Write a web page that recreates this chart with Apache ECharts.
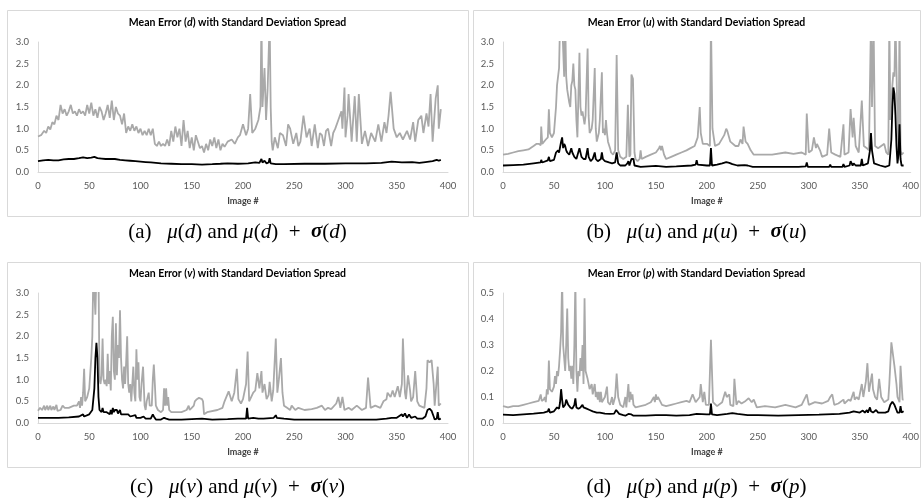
<!DOCTYPE html>
<html>
<head>
<meta charset="utf-8">
<script src="https://cdn.jsdelivr.net/npm/echarts@6/dist/echarts.min.js"></script>
<style>
  html, body { margin: 0; padding: 0; background: #fff; }
  #chart { width: 922px; height: 500px; }
</style>
</head>
<body>
<div id="chart"></div>
<script>
// x ticks shared by all four panels
var xTicks = [0, 50, 100, 150, 200, 250, 300, 350, 400];

// (a) d : mean and mean + std, [image #, value]
var dSigma = [[0,0.82],[3,0.85],[6,0.95],[8,0.9],[10,1.05],[12,0.98],[14,1.15],[16,1.1],[18,1.3],[20,1.2],[22,1.55],[24,1.35],[26,1.45],[28,1.3],[30,1.4],[32,1.55],[34,1.35],[36,1.4],[38,1.3],[40,1.45],[42,1.35],[44,1.4],[46,1.3],[48,1.55],[50,1.35],[52,1.6],[54,1.3],[56,1.45],[58,1.25],[60,1.5],[62,1.4],[64,1.2],[66,1.35],[68,1.55],[70,1.25],[72,1.65],[74,1.2],[76,1.5],[78,1.35],[80,1.3],[82,1.1],[84,1.35],[86,0.9],[88,1.05],[90,0.95],[92,1.1],[94,0.95],[96,1.05],[98,0.9],[100,1.0],[102,0.85],[104,0.95],[106,0.85],[108,1.0],[110,0.85],[112,1.0],[114,0.65],[116,0.6],[118,0.7],[120,0.6],[122,0.65],[124,0.6],[126,0.75],[128,0.6],[130,0.95],[132,0.7],[134,1.05],[136,0.8],[138,1.0],[140,0.6],[142,1.2],[144,0.7],[146,0.95],[148,0.55],[150,0.8],[152,0.5],[154,0.85],[156,0.7],[158,0.55],[160,0.6],[162,0.45],[164,0.65],[166,0.5],[168,0.75],[170,0.6],[172,0.8],[174,0.55],[176,0.75],[178,0.5],[180,0.65],[182,0.58],[185,0.7],[189,0.75],[192,0.65],[195,0.8],[197,0.85],[200,1.1],[203,0.85],[205,1.0],[207,1.8],[209,0.9],[212,1.0],[215,1.2],[217,1.5],[218,3.5],[219,1.5],[221,2.4],[222.5,1.2],[224,1.9],[226,3.5],[227,1.5],[228,0.7],[229,0.5],[231,0.8],[234,0.55],[236,0.9],[239,0.85],[242,0.6],[244,1.1],[246,1.0],[249,0.65],[252,0.9],[254,0.6],[256,0.7],[259,1.3],[262,0.8],[265,1.0],[267,0.6],[270,1.1],[273,0.55],[275,0.9],[277,0.85],[279,0.6],[281,0.95],[283,1.0],[286,0.6],[288,0.9],[290,1.0],[293,1.2],[296,1.4],[297,1.0],[299,1.95],[300,0.8],[302,1.3],[303,1.8],[306,0.7],[309,1.75],[311,0.7],[313,1.8],[316,0.65],[319,0.95],[322,0.6],[325,0.9],[329,0.7],[332,1.1],[335,0.7],[338,1.15],[340,0.9],[342,1.3],[344,1.85],[347,1.0],[350,0.8],[353,0.9],[356,0.75],[360,0.95],[363,0.75],[366,1.15],[368,0.7],[371,1.2],[374,1.3],[376,0.9],[379,1.35],[381,1.05],[383,1.8],[385,0.7],[388,1.7],[390,2.0],[391,1.0],[393,1.45]];
var dMean = [[0,0.25],[5,0.27],[10,0.28],[15,0.27],[20,0.27],[25,0.29],[30,0.3],[35,0.3],[40,0.32],[44,0.34],[48,0.32],[52,0.33],[55,0.35],[58,0.32],[62,0.31],[66,0.3],[70,0.3],[75,0.3],[80,0.28],[85,0.27],[90,0.26],[95,0.25],[100,0.24],[105,0.23],[110,0.22],[115,0.21],[120,0.2],[130,0.19],[140,0.18],[150,0.18],[160,0.17],[170,0.18],[178,0.19],[185,0.2],[195,0.19],[205,0.2],[212,0.22],[216,0.21],[218,0.3],[219,0.22],[221,0.26],[223,0.2],[225,0.22],[226,0.32],[227,0.2],[232,0.18],[240,0.18],[260,0.19],[280,0.19],[300,0.2],[320,0.2],[335,0.21],[345,0.24],[355,0.22],[365,0.23],[372,0.21],[378,0.23],[385,0.25],[389,0.28],[391,0.26],[393,0.28]];

// (b) u
var uSigma = [[0,0.4],[5,0.42],[10,0.45],[15,0.48],[20,0.5],[25,0.52],[30,0.6],[33,0.65],[35,0.65],[37,0.62],[37.5,1.05],[38.5,0.65],[42,0.75],[44,0.8],[45,1.45],[46,0.9],[48,0.8],[50,0.9],[52,1.5],[53,2.0],[55,2.4],[56,3.5],[58,3.5],[60,2.2],[61,3.5],[62,2.2],[63,1.9],[65,1.6],[66,1.5],[67,2.0],[68,2.1],[69,2.5],[70,2.0],[71,1.9],[72,1.2],[73,0.8],[75,2.75],[76,1.5],[77,1.3],[78,1.4],[80,1.1],[81,1.3],[83,2.85],[84,1.3],[85,0.9],[87,1.0],[88,1.2],[90,2.4],[91,1.0],[92,0.7],[94,0.9],[95,1.2],[97,2.3],[98,0.9],[99,1.0],[100,0.85],[101,1.2],[102,0.9],[103,0.7],[105,0.55],[106,0.45],[108,0.4],[110,0.5],[111.5,2.7],[113,0.5],[115,0.35],[118,0.3],[121,0.35],[122.5,1.55],[124,0.35],[125,0.4],[126,2.25],[127.5,2.15],[129,0.45],[130,0.3],[132,0.25],[134,0.3],[135,0.5],[136,0.3],[140,0.35],[145,0.4],[150,0.45],[153,0.55],[154,0.6],[155,0.5],[156,0.6],[158,0.4],[160,0.3],[165,0.35],[170,0.4],[175,0.45],[180,0.5],[184,0.55],[188,0.6],[191,0.8],[193,1.5],[194,0.9],[196,0.65],[200,0.65],[203,0.6],[204,3.5],[205.5,1.0],[208,0.6],[212,0.65],[217,0.85],[219,1.0],[220,0.95],[223,0.7],[228,0.6],[231,0.6],[233,0.75],[235,0.65],[236,1.05],[238,0.7],[240,0.65],[243,0.5],[246,0.4],[255,0.4],[264,0.4],[277,0.45],[285,0.42],[293,0.45],[297,0.4],[298,1.35],[300,0.45],[303,0.5],[305,0.8],[307,0.55],[308,0.65],[311,0.5],[313,0.35],[318,0.4],[320,1.0],[322,0.45],[326,0.4],[331,0.35],[334,1.1],[335,0.4],[339,0.45],[341,1.45],[343,0.8],[344,1.25],[346,0.6],[349,0.45],[352,1.65],[354,0.6],[357,0.55],[359,0.5],[361,3.5],[362,1.5],[363.5,3.5],[365,0.6],[368,0.55],[371,0.6],[374,0.65],[376,0.45],[378,0.4],[379,3.5],[380,1.2],[382,2.0],[383,2.3],[384,2.2],[385,3.5],[386,3.5],[387,1.2],[388,0.5],[389,3.5],[390,0.5],[391,0.4],[393,0.45]];
var uMean = [[0,0.15],[10,0.16],[20,0.17],[30,0.2],[37,0.22],[37.5,0.28],[38.5,0.22],[44,0.27],[45,0.35],[46,0.25],[50,0.28],[52,0.45],[54,0.5],[55,0.45],[57,0.7],[58,0.8],[59,0.55],[60,0.65],[61,0.6],[62,0.5],[63,0.45],[65,0.4],[67,0.55],[68,0.45],[70,0.35],[72,0.3],[75,0.55],[77,0.35],[79,0.3],[81,0.3],[83,0.55],[84,0.35],[86,0.25],[88,0.3],[90,0.45],[91,0.3],[93,0.25],[96,0.3],[97,0.45],[98,0.3],[100,0.25],[104,0.22],[107,0.2],[110,0.22],[111.5,0.45],[113,0.2],[115,0.15],[120,0.15],[122,0.2],[123,0.25],[124,0.15],[126,0.3],[127,0.33],[128,0.3],[129,0.15],[135,0.12],[150,0.14],[160,0.12],[170,0.13],[185,0.15],[189,0.17],[190,0.27],[191,0.17],[200,0.15],[203,0.15],[204,0.55],[205,0.15],[210,0.17],[215,0.2],[219,0.23],[222,0.21],[225,0.18],[230,0.15],[237,0.16],[240,0.15],[245,0.12],[260,0.12],[290,0.12],[297,0.13],[298,0.22],[299,0.12],[320,0.12],[321,0.17],[322,0.12],[333,0.12],[334,0.18],[335,0.12],[340,0.15],[341,0.25],[343,0.15],[344,0.2],[346,0.15],[351,0.15],[352,0.3],[353,0.15],[358,0.2],[360,0.5],[361,0.9],[362,0.5],[364,0.2],[370,0.15],[375,0.12],[379,0.15],[380,0.45],[381,0.75],[382,1.5],[383,1.95],[384,1.8],[385,1.3],[386,0.6],[387,0.2],[388,0.4],[389,1.1],[390,0.3],[391,0.15],[393,0.15]];

// (c) v
var vSigma = [[0,0.28],[2,0.35],[4,0.3],[6,0.4],[7,0.3],[9,0.4],[10,0.3],[12,0.4],[13,0.3],[15,0.38],[16,0.3],[18,0.42],[19,0.28],[22,0.3],[24,0.4],[26,0.35],[30,0.35],[35,0.4],[38,0.4],[40,0.5],[41,0.35],[42,0.6],[43,0.4],[44,0.7],[45,1.25],[46,0.5],[48,0.6],[50,0.8],[52,1.5],[53,2.0],[54,3.5],[55,3.5],[56,2.5],[57,3.5],[59,3.5],[60,1.0],[61,0.9],[62,1.1],[63,1.95],[64,1.0],[65,0.9],[66,1.0],[67,0.85],[68,1.6],[69,0.9],[70,1.2],[71,0.75],[72,2.0],[73,2.45],[74,1.2],[75,1.0],[76,2.3],[77,1.1],[78,1.8],[79,1.5],[80,2.6],[81,1.5],[82,1.0],[83,0.8],[84,1.3],[85,0.9],[86,1.4],[87,2.0],[88,0.9],[89,0.7],[90,0.9],[91,0.5],[93,1.3],[94,0.7],[95,0.5],[96,1.7],[97,1.0],[98,1.4],[99,0.6],[100,0.5],[101,0.9],[102.5,1.3],[104,0.4],[105,0.3],[106,0.5],[108,0.7],[109,0.4],[111,0.4],[112,1.0],[113,1.35],[114,0.9],[115,0.4],[117,0.3],[120,0.25],[122,0.3],[123,0.8],[124,0.4],[125,0.8],[126,0.4],[127,0.6],[128,0.3],[130,0.25],[140,0.25],[145,0.3],[147,0.4],[148,0.3],[150,0.35],[152,0.4],[153,0.5],[155,0.55],[157,0.58],[158,0.55],[160,0.55],[161,0.5],[162,0.2],[165,0.25],[175,0.3],[180,0.35],[182,0.5],[186,0.73],[189,0.5],[191.5,0.7],[194,1.25],[195.5,0.55],[198,0.45],[200,0.55],[203,0.9],[204.5,1.65],[206,0.5],[210,0.7],[212,0.75],[214,1.15],[216,0.8],[218,1.2],[219,0.7],[221,0.9],[223,0.55],[225,0.65],[226,0.95],[228,0.5],[229.5,0.75],[232,1.95],[233.5,0.7],[235,1.0],[237,1.5],[238.5,0.7],[240,0.4],[243,0.35],[246,0.3],[247.5,0.4],[251,0.3],[254,0.35],[260,0.3],[267,0.32],[272,0.35],[277,0.4],[280,0.3],[283,0.35],[286,0.32],[291,0.45],[293,0.6],[295,0.35],[297,0.6],[299,0.3],[303,0.35],[306,0.3],[311,0.4],[316,0.3],[320,0.35],[322,1.05],[324.5,0.35],[329,0.4],[334,0.35],[337,0.5],[340,0.55],[341,0.7],[344,0.6],[346,0.75],[348,0.6],[351,0.85],[353,0.6],[355,0.9],[356,1.95],[358,0.7],[359,0.55],[361,1.1],[363,0.75],[364,0.5],[366,0.6],[368,1.2],[370,0.5],[372,0.4],[377,0.35],[379,0.8],[380,1.45],[382,1.4],[384,1.45],[386,0.9],[387,0.4],[390,1.3],[391,0.4],[393,0.45]];
var vMean = [[0,0.12],[20,0.12],[30,0.13],[40,0.15],[44,0.2],[45,0.15],[50,0.2],[53,0.3],[55,0.8],[56,1.5],[57,1.85],[58,1.5],[59,0.6],[60,0.3],[62,0.25],[63,0.35],[64,0.25],[67,0.25],[70,0.2],[71,0.3],[72,0.2],[73,0.35],[74,0.25],[75,0.3],[77,0.3],[78,0.22],[80,0.3],[81,0.2],[85,0.2],[88,0.2],[90,0.15],[95,0.18],[96,0.12],[100,0.12],[103,0.15],[105,0.1],[110,0.1],[112,0.2],[113,0.15],[115,0.08],[120,0.08],[123,0.12],[125,0.1],[126,0.12],[128,0.08],[140,0.08],[150,0.09],[160,0.1],[170,0.08],[185,0.09],[195,0.1],[203,0.1],[204,0.35],[205,0.1],[210,0.12],[215,0.1],[220,0.1],[230,0.12],[232,0.18],[233,0.12],[240,0.1],[250,0.08],[300,0.08],[330,0.08],[340,0.1],[345,0.12],[350,0.12],[355,0.2],[356,0.15],[358,0.22],[360,0.12],[362,0.2],[364,0.12],[368,0.15],[370,0.1],[375,0.1],[378,0.15],[380,0.3],[382,0.33],[384,0.28],[386,0.15],[387,0.08],[389,0.1],[390,0.25],[391,0.08],[393,0.1]];

// (d) p
var pSigma = [[0,0.065],[5,0.06],[10,0.065],[15,0.065],[20,0.07],[25,0.075],[30,0.08],[35,0.085],[37,0.11],[38,0.085],[40,0.09],[41,0.1],[42,0.08],[43,0.13],[44,0.11],[45,0.24],[46,0.13],[48,0.12],[50,0.14],[51,0.18],[52,0.15],[53,0.2],[54,0.18],[55,0.22],[56,0.28],[57,0.35],[58,0.55],[59,0.3],[60,0.25],[61,0.2],[62,0.3],[63,0.44],[64,0.25],[65,0.2],[66,0.22],[67,0.17],[68,0.22],[69,0.15],[70,0.3],[71,0.55],[72,0.2],[73,0.12],[74,0.2],[75,0.18],[76,0.25],[77,0.2],[78,0.3],[79,0.15],[80,0.48],[81,0.2],[83,0.17],[85,0.13],[87,0.15],[88,0.11],[90,0.15],[91,0.1],[92,0.12],[93,0.09],[94,0.12],[95,0.08],[96,0.12],[97,0.08],[100,0.1],[102,0.14],[103,0.08],[105,0.07],[107,0.1],[108,0.07],[110,0.1],[111.5,0.19],[113,0.1],[115,0.07],[118,0.06],[120,0.1],[121,0.06],[123,0.15],[124,0.08],[125,0.12],[126,0.09],[127,0.11],[128,0.07],[130,0.06],[135,0.065],[140,0.07],[145,0.08],[148,0.1],[149,0.08],[150,0.11],[151,0.09],[152,0.1],[154,0.085],[156,0.07],[160,0.065],[165,0.07],[170,0.075],[175,0.08],[180,0.085],[183,0.08],[186,0.11],[189,0.08],[193,0.1],[194,0.15],[196,0.08],[197.5,0.12],[199,0.07],[202,0.07],[204,0.32],[206,0.08],[210,0.065],[215,0.08],[218,0.12],[219.5,0.1],[222,0.11],[223,0.07],[226,0.065],[227,0.17],[229,0.07],[231,0.085],[234,0.075],[238,0.085],[241,0.095],[244,0.08],[246,0.09],[249,0.06],[257,0.065],[267,0.06],[277,0.07],[287,0.06],[293,0.07],[298,0.11],[300,0.07],[306,0.08],[313,0.075],[319,0.085],[321,0.1],[323,0.11],[325,0.07],[329,0.075],[334,0.09],[335,0.075],[339,0.09],[341,0.085],[344,0.12],[345,0.09],[347,0.1],[349,0.09],[352,0.15],[353.5,0.1],[356,0.16],[357.5,0.23],[359,0.12],[362,0.19],[363,0.13],[365,0.1],[367,0.09],[369,0.17],[371,0.1],[374,0.08],[378,0.09],[379,0.15],[381,0.31],[382,0.28],[384,0.22],[386,0.15],[387,0.1],[389,0.08],[390,0.22],[392,0.09],[393,0.09]];
var pMean = [[0,0.032],[10,0.03],[20,0.033],[30,0.036],[40,0.04],[44,0.045],[45,0.055],[46,0.04],[50,0.045],[53,0.06],[55,0.055],[56,0.08],[57,0.13],[58,0.09],[59,0.06],[61,0.07],[62,0.09],[63,0.085],[64,0.07],[66,0.06],[68,0.055],[70,0.07],[71,0.095],[72,0.06],[74,0.055],[76,0.06],[78,0.07],[79,0.06],[80,0.065],[82,0.055],[85,0.05],[88,0.045],[92,0.04],[95,0.04],[100,0.036],[105,0.035],[109,0.036],[111,0.05],[112,0.045],[114,0.035],[118,0.03],[120,0.028],[123,0.035],[124,0.03],[126,0.033],[128,0.028],[140,0.028],[150,0.03],[160,0.03],[170,0.028],[183,0.03],[190,0.035],[200,0.033],[203,0.033],[204,0.075],[205,0.033],[210,0.03],[220,0.035],[225,0.038],[230,0.035],[240,0.03],[250,0.03],[270,0.028],[290,0.03],[310,0.032],[330,0.035],[340,0.04],[344,0.045],[350,0.04],[353,0.048],[355,0.04],[357,0.05],[358,0.04],[360,0.06],[361,0.045],[363,0.04],[366,0.05],[368,0.04],[375,0.04],[378,0.045],[380,0.07],[382,0.082],[384,0.07],[386,0.05],[387,0.04],[389,0.04],[390,0.065],[391,0.04],[393,0.045]];

var panels = [
  {v: 'd', sigma: dSigma, mean: dMean, ymax: 3, yint: 0.5, left: 38,  top: 42,  box: [7, 10, 461, 206],   cap: 232},
  {v: 'u', sigma: uSigma, mean: uMean, ymax: 3, yint: 0.5, left: 503, top: 42,  box: [473, 10, 447, 206], cap: 232},
  {v: 'v', sigma: vSigma, mean: vMean, ymax: 3, yint: 0.5, left: 38,  top: 293, box: [7, 262, 461, 205],  cap: 487},
  {v: 'p', sigma: pSigma, mean: pMean, ymax: 0.5, yint: 0.1, left: 503, top: 293, box: [473, 262, 447, 205], cap: 487}
];
var letters = ['a', 'b', 'c', 'd'];

var labelFont = 'Lato, "Open Sans", sans-serif';
var serif = '"Liberation Serif", "DejaVu Serif", serif';
var grids = [], xAxes = [], yAxes = [], series = [], graphics = [];

panels.forEach(function (p, i) {
  grids.push({left: p.left, top: p.top, width: 410, height: 130, containLabel: false});
  xAxes.push({
    type: 'value', gridIndex: i, min: xTicks[0], max: xTicks[xTicks.length - 1], interval: 50,
    name: 'Image #', nameLocation: 'middle', nameGap: 25,
    nameTextStyle: {fontFamily: labelFont, fontWeight: 'bold', fontSize: 9, color: '#404040'},
    axisLine: {show: true, lineStyle: {color: '#d9d9d9', width: 1}},
    axisTick: {show: false}, splitLine: {show: false},
    axisLabel: {fontFamily: labelFont, fontSize: 9.5, color: '#595959', margin: 9}
  });
  yAxes.push({
    type: 'value', gridIndex: i, min: 0, max: p.ymax, interval: p.yint,
    axisLine: {show: true, lineStyle: {color: '#d9d9d9', width: 1}},
    axisTick: {show: false}, splitLine: {show: false},
    axisLabel: {fontFamily: labelFont, fontSize: 9.5, color: '#595959', margin: 9,
      formatter: function (val) { return val.toFixed(1); }}
  });
  series.push({
    type: 'line', xAxisIndex: i, yAxisIndex: i, data: p.sigma, showSymbol: false,
    clip: true, lineStyle: {color: '#a9a9a9', width: 1.8}, z: 2
  });
  series.push({
    type: 'line', xAxisIndex: i, yAxisIndex: i, data: p.mean, showSymbol: false,
    clip: true, lineStyle: {color: '#000000', width: 1.8}, z: 3
  });

  var cx = p.box[0] + p.box[2] / 2;
  // panel frame
  graphics.push({
    type: 'rect', shape: {x: p.box[0] + 0.5, y: p.box[1] + 0.5, width: p.box[2], height: p.box[3]},
    style: {fill: 'none', stroke: '#d9d9d9', lineWidth: 1}, silent: true
  });
  // chart title
  graphics.push({
    type: 'text', x: cx, y: p.top - 19,
    style: {
      text: 'Mean Error ({i|' + p.v + '}) with Standard Deviation Spread',
      fontFamily: labelFont, fontWeight: 'bold', fontSize: 10.5, fill: '#000',
      align: 'center', verticalAlign: 'middle',
      rich: {i: {fontFamily: labelFont, fontWeight: 'bold', fontStyle: 'italic', fontSize: 10.5, fill: '#000'}}
    }
  });
  // sub-figure caption
  var m = '{i|μ}(' + '{i|' + p.v + '})';
  graphics.push({
    type: 'text', x: cx, y: p.cap,
    style: {
      text: '(' + letters[i] + ')   ' + m + ' and ' + m + '  +  {s|σ}({i|' + p.v + '})',
      fontFamily: serif, fontSize: 21, fill: '#000',
      align: 'center', verticalAlign: 'middle',
      rich: {
        i: {fontFamily: serif, fontStyle: 'italic', fontSize: 21, fill: '#000'},
        s: {fontFamily: serif, fontStyle: 'italic', fontWeight: 'bold', fontSize: 21, fill: '#000'}
      }
    }
  });
});

var chart = echarts.init(document.getElementById('chart'));
chart.setOption({
  animation: false,
  backgroundColor: '#fff',
  grid: grids,
  xAxis: xAxes,
  yAxis: yAxes,
  series: series,
  graphic: graphics
});
</script>
</body>
</html>
